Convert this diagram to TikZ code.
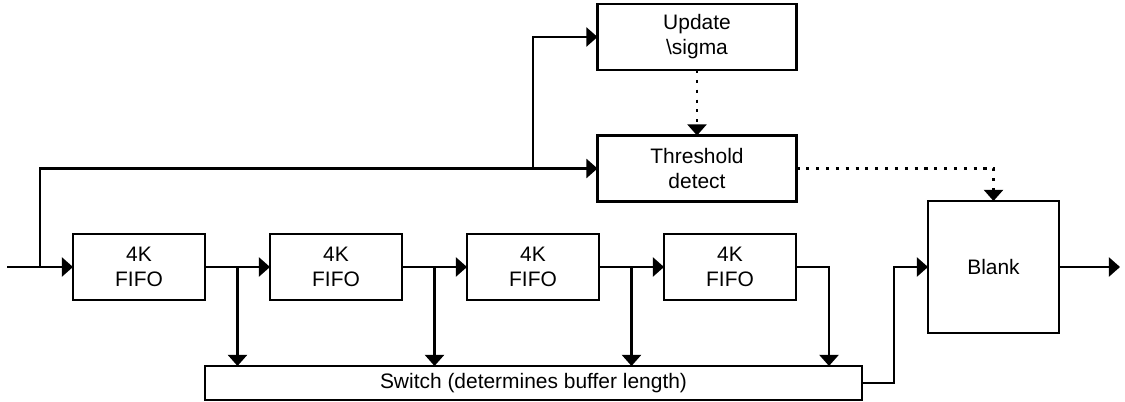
\documentclass[tikz,border=0pt]{standalone}
\usepackage{fontspec}
\setmainfont{Liberation Sans}
\usetikzlibrary{arrows.meta,positioning}
\tikzset{
  block/.style={draw, line width=1.6pt, inner sep=0pt, outer sep=0pt, align=center,
    font=\fontsize{14.9}{17.7}\selectfont},
  fifo/.style={block, minimum width=3.3cm, minimum height=1.65cm},
  wide/.style={block, minimum width=4.975cm, minimum height=1.65cm},
  sig/.style={line width=1.6pt, -{Triangle[length=0.28cm,width=0.48cm]}},
  ctl/.style={sig, dash pattern=on 2.2pt off 4.8pt},
}

\begin{document}
\begin{tikzpicture}

    \useasboundingbox (0,0) rectangle (28.125,-10.05);

    % control path
    \node[wide] (upd) at (17.425,-0.925) {Update\\\textbackslash sigma};
    \node[wide] (thr) at (17.425,-4.2125) {Threshold\\detect};

    % delay line
    \node[fifo] (f1) at (3.475,-6.675) {4K\\FIFO};
    \foreach \i [remember=\i as \j (initially 1)] in {2,3,4}
      \node[fifo, right=1.625cm of f\j] (f\i) {4K\\FIFO};

    \node[block, minimum width=16.425cm, minimum height=0.85cm] (sw) at (13.3375,-9.575)
      {Switch (determines buffer length)};
    \node[block, minimum width=3.275cm, minimum height=3.3cm] (blank) at (24.8375,-6.675) {Blank};

    \coordinate (in) at (0.175,-6.675);
    \coordinate (out) at (28,-6.675);
    \coordinate (tap0) at (1,-6.675);
    \coordinate (tapu) at (13.325,-4.2125);
    \coordinate[right=0.825cm of f4.east] (t4);

    \draw[sig] (in) -- (f1.west);
    \draw[sig] (tap0) |- (thr.west);
    \draw[sig] (tapu) |- (upd.west);
    \draw[ctl] (upd.south) -- (thr.north);
    \draw[ctl] (thr.east) -| (blank.north);

    \foreach \i/\j in {1/2,2/3,3/4} {
      \draw[sig] (f\i.east) -- (f\j.west);
      \path (f\i.east) -- (f\j.west) coordinate[midway] (t\i);
      \draw[sig] (t\i) -- (t\i |- sw.north);
    }
    \draw[sig] (f4.east) -| (t4 |- sw.north);

    \draw[sig] (sw.east) -- ++(0.8,0) |- (blank.west);
    \draw[sig] (blank.east) -- (out);

  \end{tikzpicture}
\end{document}
